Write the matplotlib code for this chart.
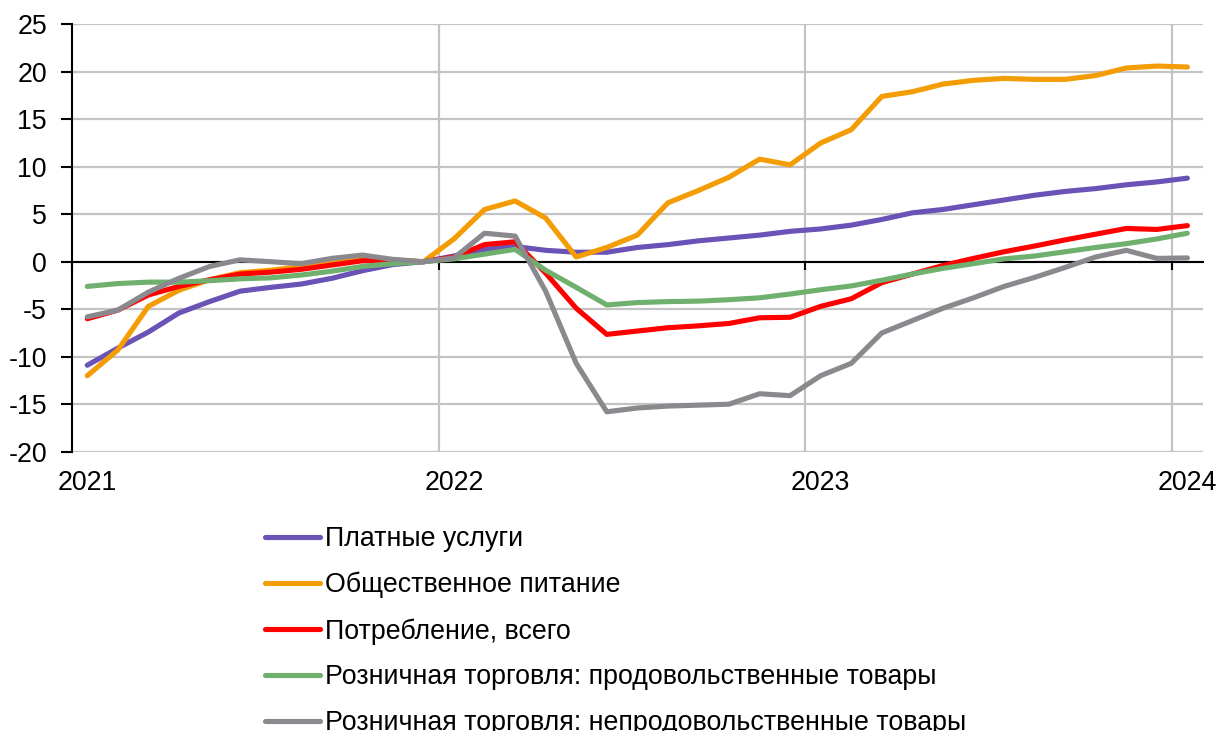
import matplotlib
matplotlib.use("Agg")
import matplotlib.pyplot as plt
import numpy as np

plt.rcParams['font.family'] = ['Liberation Sans', 'DejaVu Sans']
plt.rcParams['axes.unicode_minus'] = False

# Monthly data, Jan 2021 .. Jan 2024 (index: Dec 2021 = 0)
year_labels = ['2021', '2022', '2023', '2024']
n_months = 37

paid_services = [-10.9, -9.1, -7.4, -5.4, -4.2, -3.1, -2.7, -2.35, -1.75, -0.95, -0.3, 0.0,
                 0.6, 1.3, 1.6, 1.2, 1.0, 1.0, 1.5, 1.8, 2.2, 2.5, 2.8, 3.2,
                 3.45, 3.85, 4.45, 5.15, 5.5, 6.0, 6.5, 7.0, 7.4, 7.7, 8.1, 8.4, 8.8]
catering = [-12.0, -9.3, -4.7, -3.0, -1.9, -1.15, -0.9, -0.5, -0.1, 0.3, 0.2, 0.0,
            2.4, 5.5, 6.4, 4.6, 0.5, 1.5, 2.8, 6.2, 7.5, 8.9, 10.8, 10.2,
            12.5, 13.9, 17.4, 17.9, 18.7, 19.1, 19.3, 19.2, 19.2, 19.6, 20.4, 20.6, 20.5]
consumption = [-6.0, -5.1, -3.5, -2.6, -1.9, -1.3, -1.1, -0.8, -0.35, 0.1, 0.1, 0.0,
               0.5, 1.8, 2.1, -1.2, -4.9, -7.65, -7.3, -6.95, -6.75, -6.5, -5.9, -5.85,
               -4.7, -3.9, -2.2, -1.3, -0.4, 0.35, 1.05, 1.65, 2.3, 2.9, 3.5, 3.4, 3.8]
food_retail = [-2.6, -2.3, -2.15, -2.15, -2.0, -1.8, -1.7, -1.4, -1.0, -0.5, -0.2, 0.0,
               0.3, 0.8, 1.3, -0.9, -2.7, -4.55, -4.3, -4.2, -4.15, -4.0, -3.8, -3.4,
               -2.95, -2.55, -1.95, -1.3, -0.7, -0.2, 0.3, 0.6, 1.05, 1.5, 1.9, 2.4, 3.0]
nonfood_retail = [-5.8, -5.1, -3.2, -1.75, -0.5, 0.2, 0.0, -0.2, 0.35, 0.7, 0.25, 0.0,
                  0.4, 3.0, 2.7, -3.1, -10.7, -15.8, -15.4, -15.2, -15.1, -15.0, -13.9, -14.1,
                  -12.0, -10.7, -7.5, -6.2, -4.9, -3.8, -2.6, -1.65, -0.6, 0.5, 1.2, 0.35, 0.4]

series_labels = ['Платные услуги', 'Общественное питание', 'Потребление, всего',
                 'Розничная торговля: продовольственные товары',
                 'Розничная торговля: непродовольственные товары']
series_values = [paid_services, catering, consumption, food_retail, nonfood_retail]
colors = ['#6A52B6', '#F39C04', '#FF0000', '#6FB06F', '#8A8A8E']

FS = 19.3
fig = plt.figure(figsize=(12.2, 7.31), dpi=100)
ax = fig.add_axes([0.0590, 0.3821, 0.9858 - 0.0590, 0.9668 - 0.3821])

x = np.arange(n_months) + 0.5  # mid-month positions
ymin, ymax = -20, 25
ax.set_xlim(0, n_months)
ax.set_ylim(ymin, ymax)

ax.set_yticks(np.arange(ymin, ymax + 1, 5))
ax.grid(axis='y', color='#C3C3C3', linewidth=1.6, zorder=0)
year_pos = [12 * i for i in range(len(year_labels))]
for xp in year_pos[1:]:
    ax.axvline(xp, color='#C3C3C3', linewidth=1.6, zorder=0)

for vals, lab, col in zip(series_values, series_labels, colors):
    ax.plot(x, vals, color=col, linewidth=3.7, label=lab,
            solid_capstyle='round', solid_joinstyle='round', zorder=3)

# Spines
for s in ['top', 'right']:
    ax.spines[s].set_visible(False)
ax.spines['left'].set_color('black')
ax.spines['left'].set_linewidth(1.5)
ax.spines['bottom'].set_position(('data', 0))
ax.spines['bottom'].set_color('black')
ax.spines['bottom'].set_linewidth(1.5)
ax.spines['bottom'].set_zorder(2)

ax.set_xticks(year_pos)
ax.tick_params(axis='x', direction='out', length=6, width=1.5, labelbottom=False)
ax.tick_params(axis='y', direction='out', length=8, width=1.5, labelsize=FS, pad=10)

# Year labels at bottom
sec = ax.secondary_xaxis('bottom')
sec.set_xticks([p + 0.5 for p in year_pos])
sec.set_xticklabels(year_labels)
sec.tick_params(length=0, labelsize=FS, pad=13.5)
sec.spines['bottom'].set_visible(False)

# Legend below
leg = fig.legend(loc='upper left', bbox_to_anchor=(0.2172, 0.2800), frameon=False,
                 fontsize=FS, handlelength=2.05, handletextpad=0.19,
                 labelspacing=0.735, borderpad=0, borderaxespad=0)
for h in leg.get_lines():
    h.set_linewidth(3.7)
    h.set_solid_capstyle('round')

fig.savefig('out.png', dpi=100)
